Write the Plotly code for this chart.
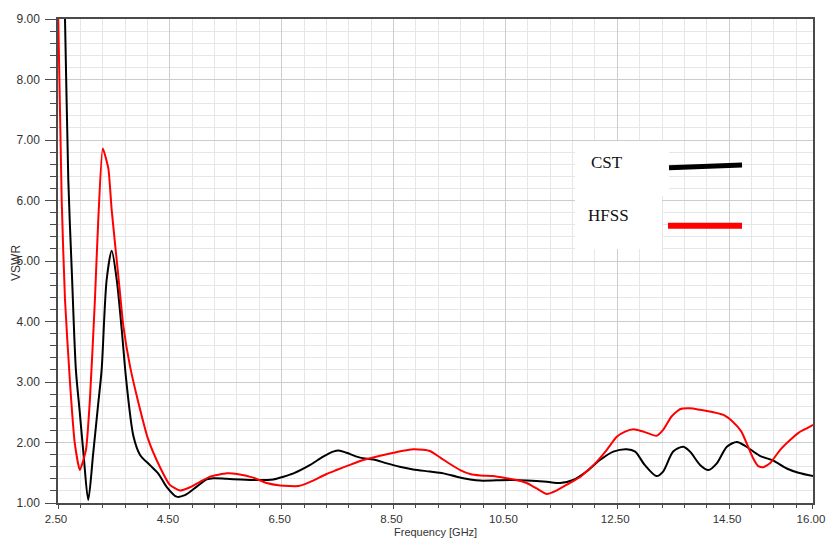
import plotly.graph_objects as go

# CST simulation: frequency (GHz) and VSWR
cst_freq = [2.58, 2.625, 2.684, 2.75, 2.82, 2.89, 2.96, 3.04, 3.13, 3.22, 3.28, 3.37,
            3.46, 3.55, 3.64, 3.72, 3.85, 3.97, 4.14, 4.29, 4.44, 4.62, 4.77, 4.98,
            5.16, 5.28, 5.52, 5.99, 6.35, 6.53, 6.71, 7.01, 7.24, 7.42, 7.54, 7.66,
            7.90, 8.14, 8.38, 8.61, 8.85, 9.15, 9.39, 9.63, 9.87, 10.05, 10.64, 11.24,
            11.48, 11.71, 11.95, 12.19, 12.43, 12.67, 12.82, 12.99, 13.20, 13.32, 13.50,
            13.68, 13.80, 13.98, 14.13, 14.28, 14.46, 14.64, 14.81, 15.05, 15.29, 15.53,
            15.74, 16.00]
cst_vswr = [10.4, 9.0, 6.34, 4.75, 3.2, 2.49, 1.77, 1.05, 1.83, 2.65, 3.2, 4.69,
            5.17, 4.69, 3.86, 3.03, 2.10, 1.79, 1.63, 1.49, 1.27, 1.105, 1.13, 1.27,
            1.39, 1.41, 1.40, 1.38, 1.39, 1.435, 1.49, 1.63, 1.765, 1.85, 1.865, 1.83,
            1.75, 1.72, 1.655, 1.60, 1.555, 1.52, 1.49, 1.435, 1.39, 1.37, 1.38, 1.35,
            1.33, 1.38, 1.52, 1.71, 1.85, 1.89, 1.85, 1.63, 1.445, 1.52, 1.85,
            1.93, 1.85, 1.63, 1.545, 1.655, 1.93, 2.01, 1.93, 1.78, 1.70, 1.57,
            1.50, 1.445]

# HFSS simulation: frequency (GHz) and VSWR
hfss_freq = [2.50, 2.566, 2.625, 2.715, 2.80, 2.89, 3.00, 3.07, 3.16, 3.22, 3.30, 3.40,
             3.46, 3.58, 3.67, 3.79, 3.94, 4.11, 4.32, 4.50, 4.68, 4.86, 5.04, 5.22,
             5.52, 5.70, 5.99, 6.23, 6.47, 6.80, 7.01, 7.30, 7.48, 7.72, 7.96, 8.26,
             8.50, 8.67, 8.85, 9.03, 9.15, 9.33, 9.51, 9.69, 9.87, 10.05, 10.28, 10.52,
             10.70, 10.88, 11.06, 11.24, 11.42, 11.65, 11.83, 11.95, 12.13, 12.31, 12.49,
             12.64, 12.79, 12.97, 13.20, 13.32, 13.47, 13.62, 13.80, 13.98, 14.22, 14.40,
             14.57, 14.72, 14.84, 14.93, 15.02, 15.11, 15.23, 15.41, 15.59, 15.74, 15.89,
             16.00]
hfss_vswr = [9.2, 6.0, 4.36, 2.98, 1.99, 1.545, 1.88, 2.70, 4.36, 5.68, 6.86, 6.53,
             5.84, 4.74, 3.91, 3.25, 2.65, 2.06, 1.60, 1.30, 1.205, 1.26, 1.35, 1.435,
             1.49, 1.48, 1.42, 1.33, 1.29, 1.28, 1.35, 1.48, 1.545, 1.63, 1.71, 1.78,
             1.83, 1.865, 1.89, 1.88, 1.86, 1.755, 1.645, 1.545, 1.48, 1.455, 1.445, 1.41,
             1.38, 1.33, 1.24, 1.15, 1.21, 1.33, 1.425, 1.52, 1.68, 1.875, 2.095,
             2.18, 2.22, 2.18, 2.11, 2.21, 2.43, 2.55, 2.565, 2.54, 2.50, 2.455,
             2.34, 2.18, 1.93, 1.74, 1.61, 1.59, 1.655, 1.875, 2.04, 2.16, 2.235,
             2.29]

x_tick_vals = [2.5, 4.5, 6.5, 8.5, 10.5, 12.5, 14.5, 16.0]
x_tick_text = ["2.50", "4.50", "6.50", "8.50", "10.50", "12.50", "14.50", "16.00"]
y_tick_vals = [1, 2, 3, 4, 5, 6, 7, 8, 9]
y_tick_text = ["1.00", "2.00", "3.00", "4.00", "5.00", "6.00", "7.00", "8.00", "9.00"]

narrow = "Liberation Sans Narrow, Arial Narrow, Liberation Sans, Arial, sans-serif"
serif = "Liberation Serif, Times New Roman, serif"

fig = go.Figure()
fig.add_trace(go.Scatter(x=cst_freq, y=cst_vswr, mode="lines", name="CST",
                         line=dict(color="#000000", width=2, shape="spline",
                                   smoothing=0.8)))
fig.add_trace(go.Scatter(x=hfss_freq, y=hfss_vswr, mode="lines", name="HFSS",
                         line=dict(color="#ff0000", width=2, shape="spline",
                                   smoothing=0.5)))

axis_common = dict(
    showline=True, linecolor="#4a4a4a", linewidth=1.5, mirror=True,
    showgrid=True, gridcolor="#cccccc", gridwidth=1,
    zeroline=False, ticks="outside", tickcolor="#4a4a4a",
    automargin=False,
)

fig.update_layout(
    width=826, height=540,
    margin=dict(l=58, r=13, t=19, b=37, autoexpand=False),
    paper_bgcolor="white", plot_bgcolor="white",
    showlegend=False,
    xaxis=dict(**axis_common, range=[2.4999, 16.0001], tickmode="array",
               tickvals=x_tick_vals, ticktext=x_tick_text, ticklen=4,
               ticklabeloverflow="allow", ticklabelshift=-2,
               tickfont=dict(family=narrow, size=11.5, color="#333333"),
               minor=dict(tick0=2.5, dtick=0.4, ticklen=3, ticks="outside",
                          tickcolor="#4a4a4a", showgrid=True,
                          gridcolor="#e6e6e6", gridwidth=1)),
    yaxis=dict(**axis_common, range=[1.0, 9.0], tickmode="array",
               tickvals=y_tick_vals, ticktext=y_tick_text, ticklen=11,
               ticklabelstandoff=3,
               tickfont=dict(family=narrow, size=12, color="#333333"),
               minor=dict(tick0=1.0, dtick=0.2, ticklen=6, ticks="outside",
                          tickcolor="#4a4a4a", showgrid=True,
                          gridcolor="#e6e6e6", gridwidth=1)),
)

# legend panel: white backing boxes, labels and sample lines
fig.add_shape(type="rect", xref="paper", yref="paper", x0=0.6848, x1=0.8093,
              y0=0.634, y1=0.748, fillcolor="white", line=dict(width=0), layer="above")
fig.add_shape(type="rect", xref="paper", yref="paper", x0=0.6848, x1=0.800,
              y0=0.5248, y1=0.634, fillcolor="white", line=dict(width=0), layer="above")
fig.add_shape(type="line", xref="paper", yref="paper", x0=0.8093, x1=0.906,
              y0=0.6928, y1=0.6983, line=dict(color="#000000", width=5), layer="above")
fig.add_shape(type="line", xref="paper", yref="paper", x0=0.8079, x1=0.906,
              y0=0.573, y1=0.573, line=dict(color="#ff0000", width=6), layer="above")

fig.add_annotation(text="CST", xref="paper", yref="paper", x=0.7272, y=0.7045,
                   xanchor="center", yanchor="middle", showarrow=False,
                   font=dict(family=serif, size=17, color="#111111"))
fig.add_annotation(text="HFSS", xref="paper", yref="paper", x=0.7285, y=0.593,
                   xanchor="center", yanchor="middle", showarrow=False,
                   font=dict(family=serif, size=17, color="#111111"))

# axis titles
fig.add_annotation(text="VSWR", xref="paper", yref="paper", x=-0.0556, y=0.496,
                   xanchor="center", yanchor="middle", textangle=-90, showarrow=False,
                   font=dict(family=narrow, size=12, color="#333333"))
fig.add_annotation(text="Frequency [GHz]", xref="paper", yref="paper", x=0.4995, y=-0.0595,
                   xanchor="center", yanchor="middle", showarrow=False,
                   font=dict(family=narrow, size=11, color="#333333"))

fig.write_html("out.html")
